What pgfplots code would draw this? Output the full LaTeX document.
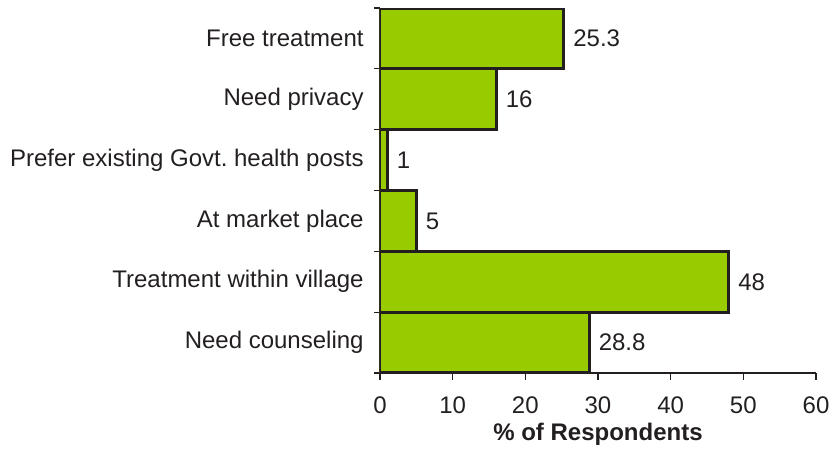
\documentclass[border=0pt]{standalone}
\usepackage{pgfplots}
\pgfplotsset{compat=1.18}
\usepackage{fontspec}
\setmainfont{Liberation Sans}
\definecolor{barg}{HTML}{99CC00}
\definecolor{ink}{HTML}{231F20}
\begin{document}
\fontsize{12}{14}\selectfont
\begin{tikzpicture}
\begin{axis}[
  scale only axis, width=218pt, height=182.5pt,
  xbar, bar width=30.4pt,
  xmin=0, xmax=60, ymin=-0.5, ymax=5.5,
  axis x line*=bottom, axis y line*=left,
  axis line style={ink, line width=0.6pt, -},
  /pgf/number format/assume math mode=true,
  xtick={0,10,...,60},
  ytick={0,...,5},
  yticklabels={Need counseling, Treatment within village, At market place, Prefer existing Govt.\ health posts, Need privacy, Free treatment},
  minor ytick={-0.5,0.5,...,5.5},
  tick align=outside,
  major tick length=3.5pt,
  minor tick length=3pt,
  tick style={ink, line width=0.6pt},
  major y tick style={draw=none},
  ticklabel style={font=\fontsize{12}{14}\selectfont, text=ink},
  yticklabel style={xshift=-0.5pt},
  xticklabel style={yshift=-4pt, inner xsep=0pt},
  xlabel={\bfseries\% of Respondents},
  xlabel style={font=\fontsize{12}{14}\selectfont, text=ink, yshift=3.5pt},
  nodes near coords,
  every node near coord/.append style={font=\fontsize{12}{14}\selectfont, text=ink, anchor=west},
]
\addplot[fill=barg, draw=ink, line width=1.5pt] coordinates {
  (28.8,0) (48,1) (5,2) (1,3) (16,4) (25.3,5)
};
\end{axis}
\path ([shift={(-190pt,-37pt)}]current axis.south west) rectangle ([shift={(8pt,4pt)}]current axis.north east);
\end{tikzpicture}
\end{document}
